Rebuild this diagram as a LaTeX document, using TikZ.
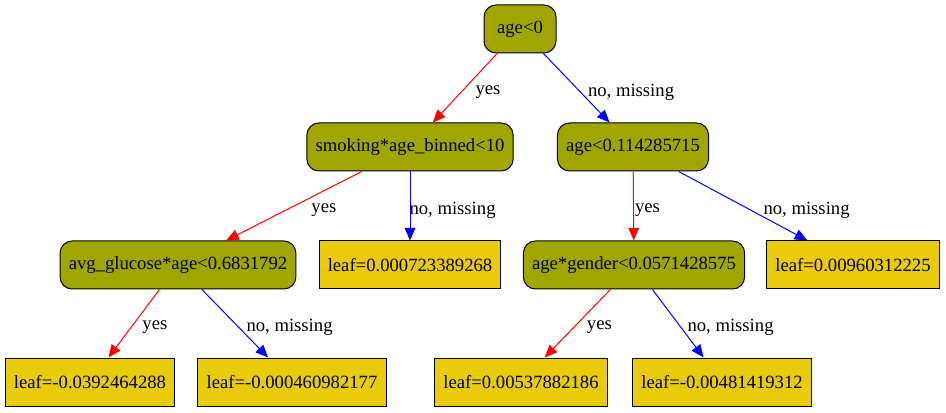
\documentclass[tikz,border=0pt]{standalone}
\usepackage{fontspec}
\setmainfont{Liberation Serif}
\usetikzlibrary{arrows.meta}
\definecolor{splitcol}{RGB}{160,165,0}
\definecolor{leafcol}{RGB}{233,203,10}
\tikzset{
    split/.style={draw, fill=splitcol, rounded corners=9pt, minimum height=36pt, minimum width=54pt, inner xsep=6.5pt, line width=.75pt},
    leaf/.style={draw, fill=leafcol, minimum height=36pt, inner xsep=6.5pt, line width=.75pt},
    lbl/.style={anchor=west, inner sep=0pt, text=black, font=\fontsize{14}{16}\selectfont},
    yesedge/.style={red, line width=.75pt},
    noedge/.style={blue, line width=.75pt}
}
\begin{document}
\begin{tikzpicture}[x=.75pt, y=-.75pt, >={Triangle[length=9.5pt, width=8pt]}, font=\fontsize{14}{16}\selectfont]
    \useasboundingbox (0,0) rectangle (946,413);
    % splits
    \node[split](n0) at (520,29) {age<0};
    \node[split](n1) at (410,147) {smoking*age\_binned<10};
    \node[split](n2) at (633,147) {age<0.114285715};
    \node[split](n3) at (178,265) {avg\_glucose*age<0.6831792};
    \node[split](n5) at (634,265) {age*gender<0.0571428575};
    % leaves
    \node[leaf](n4) at (410,265) {leaf=0.000723389268};
    \node[leaf](n6) at (853,265) {leaf=0.00960312225};
    \node[leaf](n7) at (90,382) {leaf=-0.0392464288};
    \node[leaf](n8) at (292,382) {leaf=-0.000460982177};
    \node[leaf](n9) at (521,382) {leaf=0.00537882186};
    \node[leaf](n10) at (722,382) {leaf=-0.00481419312};
    % edges
    \foreach \a/\b/\dx in {n0/n1/10, n1/n3/17, n2/n5/1, n3/n7/8, n5/n9/9}
    {
        \draw[yesedge,->](\a)--(\b) node[lbl, pos=.5, xshift=\dx*.75pt, yshift=-3pt]{yes};
    }
    \foreach \a/\b/\dx in {n0/n2/11, n1/n4/-1, n2/n6/20, n3/n8/11, n5/n10/9}
    {
        \draw[noedge,->](\a)--(\b) node[lbl, pos=.5, xshift=\dx*.75pt, yshift=-3pt]{no, missing};
    }
\end{tikzpicture}
\end{document}
